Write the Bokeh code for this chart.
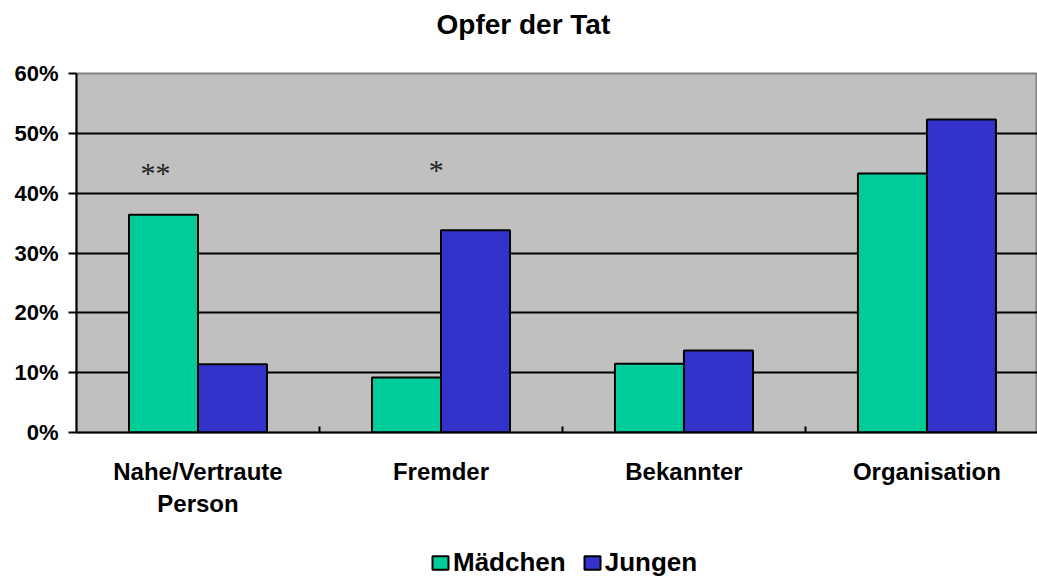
from bokeh.plotting import figure
from bokeh.layouts import column
from bokeh.models import Range1d, FixedTicker, PrintfTickFormatter, Legend, LegendItem
from bokeh.core.properties import value
from bokeh.embed import file_html
from bokeh.resources import INLINE

# ---- data ----
categories = ["Nahe/Vertraute Person", "Fremder", "Bekannter", "Organisation"]
cat_labels = ["Nahe/Vertraute\nPerson", "Fremder", "Bekannter", "Organisation"]
maedchen = [36.4, 9.2, 11.5, 43.3]
jungen = [11.4, 33.8, 13.7, 52.3]
series_names = ["Mädchen", "Jungen"]
y_ticks = [0, 10, 20, 30, 40, 50, 60]
sig_labels = ["**", "*"]
sig_cat = ["Nahe/Vertraute Person", "Fremder"]
sig_y = [43.5, 44.0]
title_text = "Opfer der Tat"

# ---- styling ----
GREEN = "#00cc99"
BLUE = "#3333cc"
FONT = "Liberation Sans"
bar_w = 0.284
sig_dx = [-0.175, -0.019]

centers = [i + 0.5 for i in range(len(categories))]

p = figure(width=1037, height=520, output_backend="svg", toolbar_location=None,
           x_range=Range1d(0, 3.955), y_range=Range1d(0, 60),
           min_border_left=76, min_border_right=0, min_border_top=73,
           min_border_bottom=88)

p.background_fill_color = "#c0c0c0"
p.border_fill_color = "white"
p.outline_line_color = "#808080"
p.outline_line_width = 2

bar_style = dict(width=bar_w, line_color="black", line_width=2)
r1 = p.vbar(x=[c - bar_w / 2 for c in centers], top=maedchen,
            fill_color=GREEN, **bar_style)
r2 = p.vbar(x=[c + bar_w / 2 for c in centers], top=jungen,
            fill_color=BLUE, **bar_style)

sx = [centers[categories.index(c)] + d for c, d in zip(sig_cat, sig_dx)]
p.text(x=sx, y=sig_y, text=sig_labels, text_font=value("Liberation Serif"),
       text_font_size="30px", text_align="center", text_baseline="alphabetic",
       text_color="#222222")

# title (trailing empty line lifts it away from the plot area)
p.title.text = title_text + "\n"
p.title.text_font = FONT
p.title.text_font_style = "bold"
p.title.text_font_size = "28px"
p.title.text_color = "black"
p.title.align = "left"
p.title.offset = 360
p.title.standoff = 6

# x axis
xa = p.xaxis[0]
xa.ticker = FixedTicker(ticks=centers, minor_ticks=[1, 2, 3])
xa.major_label_overrides = {c: l for c, l in zip(centers, cat_labels)}
xa.axis_line_color = "black"
xa.axis_line_width = 2
xa.major_tick_in = 0
xa.major_tick_out = 0
xa.minor_tick_in = 6
xa.minor_tick_out = 0
xa.minor_tick_line_color = "black"
xa.minor_tick_line_width = 2
xa.major_label_text_font = FONT
xa.major_label_text_font_style = "bold"
xa.major_label_text_font_size = "24px"
xa.major_label_text_color = "black"
xa.major_label_standoff = 25
p.xgrid.visible = False

# y axis
ya = p.yaxis[0]
ya.ticker = FixedTicker(ticks=y_ticks)
ya.formatter = PrintfTickFormatter(format="%d%%")
ya.axis_line_color = "black"
ya.axis_line_width = 2
ya.major_tick_in = 0
ya.major_tick_out = 8
ya.major_tick_line_color = "black"
ya.major_tick_line_width = 2
ya.minor_tick_line_color = None
ya.major_label_text_font = FONT
ya.major_label_text_font_style = "bold"
ya.major_label_text_font_size = "22px"
ya.major_label_text_color = "black"
ya.major_label_standoff = 10
p.ygrid.ticker = FixedTicker(ticks=y_ticks[1:-1])
p.ygrid.grid_line_color = "black"
p.ygrid.grid_line_width = 2

# legend strip below the chart (hidden copies of the bar series supply the swatches)
pl = figure(width=1037, height=60, output_backend="svg", toolbar_location=None,
            x_range=Range1d(0, 1), y_range=Range1d(0, 1),
            x_axis_type=None, y_axis_type=None,
            min_border_left=0, min_border_right=0, min_border_top=0,
            min_border_bottom=0)
pl.outline_line_color = None
pl.xgrid.visible = False
pl.ygrid.visible = False
lg1 = pl.vbar(x=centers, top=maedchen, fill_color=GREEN, visible=False, **bar_style)
lg2 = pl.vbar(x=centers, top=jungen, fill_color=BLUE, visible=False, **bar_style)

legend = Legend(items=[LegendItem(label=series_names[0], renderers=[lg1], index=0),
                       LegendItem(label=series_names[1], renderers=[lg2], index=0)],
                location=(354, 2), orientation="horizontal",
                glyph_width=20, glyph_height=17, label_standoff=3, spacing=16,
                padding=0, margin=0, border_line_color=None,
                background_fill_alpha=0, inactive_fill_alpha=0,
                label_text_font=FONT, label_text_font_style="bold",
                label_text_font_size="26px", label_text_color="black")
pl.add_layout(legend)

layout = column(p, pl, spacing=0)
open("out.html", "w").write(file_html(layout, INLINE))
